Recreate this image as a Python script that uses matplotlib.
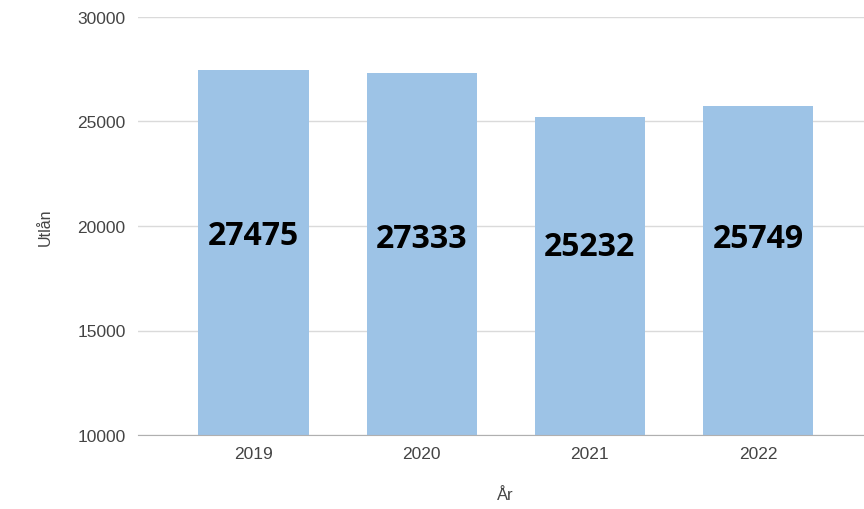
import matplotlib.pyplot as plt

# data
years = ["2019", "2020", "2021", "2022"]
utlan = [27475, 27333, 25232, 25749]
label_y = [19520, 19380, 19000, 19380]  # where the big numbers sit

plt.rcParams['font.family'] = ['Liberation Sans', 'DejaVu Sans']

fig = plt.figure(figsize=(8.64, 5.10), dpi=100)
ax = fig.add_axes([0.16, 0.145, 0.84, 0.82])

x = list(range(len(years)))
ax.bar(x, utlan, width=0.655, color="#9dc3e6", zorder=2)

for i in x:
    ax.text(i, label_y[i], str(utlan[i]), ha="center", va="center",
            fontsize=23, fontweight="bold", color="black",
            family=['Open Sans', 'DejaVu Sans'], zorder=3)

ax.set_ylim(10000, 30000)
ax.set_xlim(-0.685, 3.63)
ax.set_yticks([10000, 15000, 20000, 25000, 30000])
ax.set_xticks(x)
ax.set_xticklabels(years)
ax.grid(axis="y", color="#dadada", linewidth=1, zorder=0)
ax.tick_params(axis="both", length=0, labelsize=12.5, colors="#444444")
ax.tick_params(axis="y", pad=9)
ax.tick_params(axis="x", pad=8)
for s in ["top", "right", "left"]:
    ax.spines[s].set_visible(False)
ax.spines["bottom"].set_color("#b0b0b0")
ax.spines["bottom"].set_zorder(3)

ax.set_ylabel("Utlån", fontsize=11.5, color="#444444", labelpad=18)
ax.set_xlabel("År", fontsize=12, color="#444444")
ax.xaxis.set_label_coords((505 - 138) / (864 - 138), -0.125)

fig.savefig("out.png", dpi=100)
